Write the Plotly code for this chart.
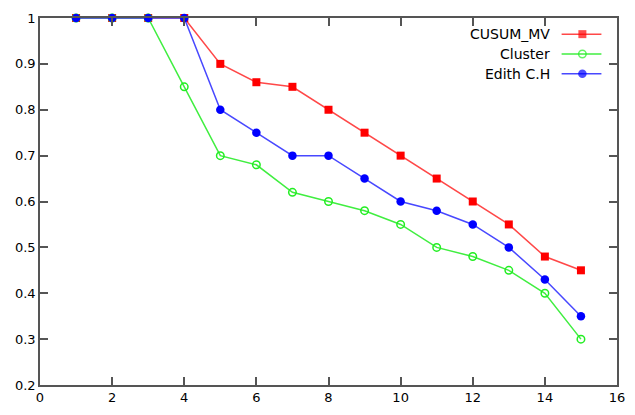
import plotly.graph_objects as go

x = list(range(1, 16))
cusum_mv = [1, 1, 1, 1, 0.9, 0.86, 0.85, 0.8, 0.75, 0.7, 0.65, 0.6, 0.55, 0.48, 0.45]
cluster = [1, 1, 1, 0.85, 0.7, 0.68, 0.62, 0.6, 0.58, 0.55, 0.5, 0.48, 0.45, 0.4, 0.3]
edith = [1, 1, 1, 1, 0.8, 0.75, 0.7, 0.7, 0.65, 0.6, 0.58, 0.55, 0.5, 0.43, 0.35]

names = ["CUSUM_MV", "Cluster", "Edith C.H"]
line_colors = ["#ff4848", "#40ee40", "#4848ff"]
marker_colors = ["#ff0000", "#22ee22", "#0000ff"]
symbols = ["square", "circle-open", "circle"]
sizes = [8, 7.5, 8.5]

xticks = [0, 2, 4, 6, 8, 10, 12, 14, 16]
yticks = [0.2, 0.3, 0.4, 0.5, 0.6, 0.7, 0.8, 0.9, 1.0]
yticktext = ["0.2", "0.3", "0.4", "0.5", "0.6", "0.7", "0.8", "0.9", "1"]

FONT = "DejaVu Sans"
fig = go.Figure()

series = [cusum_mv, cluster, edith]
for i, ys in enumerate(series):
    fig.add_trace(go.Scatter(
        x=x, y=ys, mode="lines+markers", name=names[i],
        line=dict(color=line_colors[i], width=1.5),
        marker=dict(symbol=symbols[i], size=sizes[i], color=marker_colors[i],
                    line=dict(color=marker_colors[i], width=1.5 if i == 1 else 0)),
        showlegend=False, cliponaxis=False,
    ))

# custom gnuplot-style key: text right, sample on the right
key_y = [0.956, 0.902, 0.848]
for i in range(3):
    fig.add_trace(go.Scatter(
        x=[0.904, 0.94, 0.973], y=[key_y[i]] * 3, xaxis="x2", yaxis="y2",
        mode="lines+markers",
        line=dict(color=line_colors[i], width=1.5),
        marker=dict(symbol=symbols[i], size=[0, sizes[i], 0], color=marker_colors[i],
                    line=dict(color=marker_colors[i], width=1.5 if i == 1 else 0)),
        showlegend=False, hoverinfo="skip",
    ))
    fig.add_annotation(x=0.887, y=key_y[i], xref="x2", yref="y2", text=names[i],
                       showarrow=False, xanchor="right", yanchor="middle",
                       font=dict(family=FONT, size=14, color="#000"))

axis_common = dict(showline=True, linecolor="#555555", linewidth=1.5, mirror="ticks",
                   ticks="inside", ticklen=8, tickwidth=1.5, tickcolor="#555555",
                   showgrid=False, zeroline=False,
                   tickfont=dict(family=FONT, size=13, color="#000"))

fig.update_layout(
    width=635, height=415,
    margin=dict(l=40, r=10, t=18, b=29),
    paper_bgcolor="white", plot_bgcolor="white",
    xaxis=dict(range=[0, 16], tickvals=xticks, **axis_common),
    yaxis=dict(range=[0.2, 1.0], tickvals=yticks, ticktext=yticktext, **axis_common),
    xaxis2=dict(range=[0, 1], overlaying="x", visible=False),
    yaxis2=dict(range=[0, 1], overlaying="y", visible=False),
)

fig.write_html("out.html")
